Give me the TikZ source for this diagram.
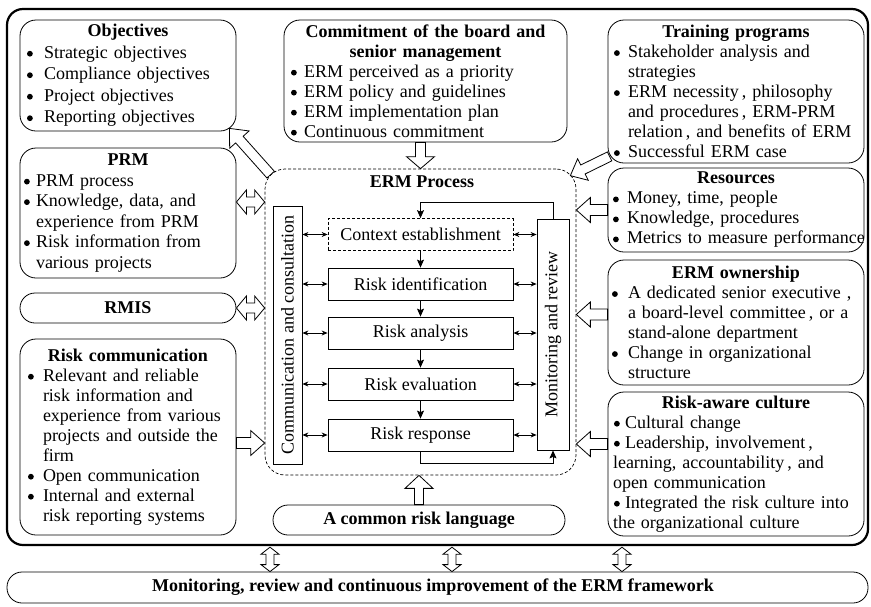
\documentclass[tikz,border=0pt]{standalone}
\usepackage{fontspec}
\setmainfont{Liberation Serif}
\usetikzlibrary{arrows.meta,calc}
\setlength\parindent{0pt}

% text helpers for the framed lists
\newcommand\bigbullet{\tikz[baseline=-4.6pt]\fill (0pt,0pt) circle (2.9pt);}
\newcommand\boxhead[1]{\noindent\makebox[\hsize]{\bfseries #1}\par}
\newcommand\bulline[3]{\noindent\hspace*{#1}\makebox[#2][l]{\bigbullet}\mbox{#3}\par}
\newcommand\contline[2]{\noindent\hspace*{#1}\mbox{#2}\par}

% hollow block arrow: tail, tip, shaft half width, head half width, head length
\newcommand\blockarrow[5]{%
  \path #1 coordinate (ba-tail) #2 coordinate (ba-tip);
  \coordinate (ba-neck) at ($(ba-tip)!#5!(ba-tail)$);
  \draw[hollow] ($(ba-tail)!#3!90:(ba-tip)$) -- ($(ba-neck)!#3!90:(ba-tip)$)
    -- ($(ba-neck)!#4!90:(ba-tip)$) -- (ba-tip) -- ($(ba-neck)!#4!-90:(ba-tip)$)
    -- ($(ba-neck)!#3!-90:(ba-tip)$) -- ($(ba-tail)!#3!-90:(ba-tip)$) -- cycle;}
% hollow double-headed block arrow, same arguments
\newcommand\blockdarrow[5]{%
  \path #1 coordinate (bd-a) #2 coordinate (bd-b);
  \coordinate (bd-na) at ($(bd-a)!#5!(bd-b)$);
  \coordinate (bd-nb) at ($(bd-b)!#5!(bd-a)$);
  \draw[hollow] (bd-a) -- ($(bd-na)!#4!90:(bd-b)$) -- ($(bd-na)!#3!90:(bd-b)$)
    -- ($(bd-nb)!#3!90:(bd-b)$) -- ($(bd-nb)!#4!90:(bd-b)$) -- (bd-b)
    -- ($(bd-nb)!#4!-90:(bd-b)$) -- ($(bd-nb)!#3!-90:(bd-b)$)
    -- ($(bd-na)!#3!-90:(bd-b)$) -- ($(bd-na)!#4!-90:(bd-b)$) -- cycle;}

\begin{document}
\begin{tikzpicture}[x=1pt, y={(0pt,-1pt)},
  every node/.style={font=\fontsize{18}{20}\selectfont},
  frame/.style={draw, line width=2.2pt, rounded corners=16pt, inner sep=0pt},
  infobox/.style={draw, line width=0.8pt, rounded corners=16pt, inner xsep=4pt, inner ysep=0pt},
  pill/.style={draw, line width=0.8pt, rounded corners=15pt, inner sep=0pt,
    font=\fontsize{18}{20}\selectfont\bfseries},
  stepbox/.style={draw, line width=0.8pt, minimum width=185pt, minimum height=32pt, inner sep=0pt},
  bar/.style={draw, line width=0.8pt, inner sep=0pt},
  dashline/.style={dash pattern=on 3pt off 2pt, line width=0.7pt},
  hollow/.style={draw, fill=white, line width=0.8pt, line join=miter},
  flow/.style={line width=0.8pt, -{Stealth[length=8pt,width=7pt,inset=1.5pt]}},
  link/.style={line width=0.8pt, {Stealth[length=6pt,width=5pt]}-{Stealth[length=6pt,width=5pt]}},
  title/.style={font=\fontsize{18}{20}\selectfont\bfseries}]

\useasboundingbox (0,0) rectangle (871,606);

% enclosing frame and the improvement band below it
\node[frame, minimum width=861pt, minimum height=536pt] (outer) at (437.5,277) {};
\node[pill, minimum width=861pt, minimum height=31pt] (improve) at (437.5,587.5)
  {Monitoring, review and continuous improvement of the ERM framework\hspace*{9pt}};

% left column
\node[infobox, font=\fontsize{18}{21.5}\selectfont, minimum width=216pt, minimum height=111pt, text width=208pt] (obj) at (128,75.5) {%
\boxhead{Objectives}
\bulline{3pt}{17pt}{Strategic objectives}
\bulline{3pt}{17pt}{Compliance objectives}
\bulline{3pt}{17pt}{Project objectives}
\bulline{3pt}{17pt}{Reporting objectives}};

\node[infobox, font=\fontsize{18}{20.5}\selectfont, minimum width=216pt, minimum height=130pt, text width=208pt] (prm) at (128,213) {%
\boxhead{PRM}
\bulline{0pt}{12pt}{PRM process}
\bulline{0pt}{12pt}{Knowledge, data, and}
\contline{12pt}{experience from PRM}
\bulline{0pt}{12pt}{Risk information from}
\contline{12pt}{various projects}};

\node[pill, minimum width=216pt, minimum height=30pt] (rmis) at (128,308) {RMIS};

\node[infobox, minimum width=216pt, minimum height=196pt, text width=208pt] (rcomm) at (128,437) {%
\boxhead{Risk communication}
\bulline{4pt}{15pt}{Relevant and reliable}
\contline{19pt}{risk information and}
\contline{19pt}{experience from various}
\contline{19pt}{projects and outside the}
\contline{19pt}{firm}
\bulline{4pt}{15pt}{Open communication}
\bulline{4pt}{15pt}{Internal and external}
\contline{19pt}{risk reporting systems}};

% top centre
\node[infobox, minimum width=283pt, minimum height=122pt, text width=275pt] (commit) at (425.5,81) {%
\boxhead{Commitment of the board and}
\boxhead{senior management}
\bulline{3pt}{13pt}{ERM perceived as a priority}
\bulline{3pt}{13pt}{ERM policy and guidelines}
\bulline{3pt}{13pt}{ERM implementation plan}
\bulline{3pt}{13pt}{Continuous commitment}};

% right column
\node[infobox, minimum width=256pt, minimum height=143pt, text width=248pt] (train) at (736,91.5) {%
\boxhead{Training programs}
\bulline{2pt}{14pt}{Stakeholder analysis and}
\contline{16pt}{strategies}
\bulline{2pt}{14pt}{ERM necessity\,, philosophy}
\contline{16pt}{and procedures\,, ERM-PRM}
\contline{16pt}{relation\,, and benefits of ERM}
\bulline{2pt}{14pt}{Successful ERM case}};

\node[infobox, minimum width=256pt, minimum height=84pt, text width=248pt] (res) at (736,210) {%
\boxhead{Resources}
\bulline{1pt}{14pt}{Money, time, people}
\bulline{1pt}{14pt}{Knowledge, procedures}
\bulline{1pt}{14pt}{Metrics to measure performance}};

\node[infobox, minimum width=256pt, minimum height=125pt, text width=248pt] (own) at (736,322.5) {%
\boxhead{ERM ownership}
\bulline{0pt}{16pt}{A dedicated senior executive ,}
\contline{16pt}{a board-level committee\,, or a}
\contline{16pt}{stand-alone department}
\bulline{0pt}{16pt}{Change in organizational}
\contline{16pt}{structure}};

\node[infobox, minimum width=256pt, minimum height=144pt, text width=248pt] (aware) at (736,464) {%
\boxhead{Risk-aware culture}
\bulline{2pt}{11pt}{Cultural change}
\bulline{2pt}{11pt}{Leadership, involvement\,,}
\contline{1pt}{learning, accountability\,, and}
\contline{1pt}{open communication}
\bulline{2pt}{11pt}{Integrated the risk culture into}
\contline{1pt}{the organizational culture}};

% bottom centre
\node[pill, minimum width=292pt, minimum height=30pt] (lang) at (419,520) {A common risk language};

% ERM process core
\node[draw, dashline, rounded corners=20pt, minimum width=311pt, minimum height=306pt, inner sep=0pt] (erm) at (420.5,322) {};
\node[title] (ermtitle) at (422,182) {ERM Process};

\node[bar, minimum width=29pt, minimum height=258pt] (comm) at (287.5,335) {};
\node[rotate=90] (commtext) at (comm.center) {Communication and consultation};
\node[bar, minimum width=32pt, minimum height=231pt] (mon) at (553,334.5) {};
\node[rotate=90] (montext) at (mon.center) {Monitoring and review};

\node[stepbox, dashline] (ctx) at (420.5,234.5) {Context establishment};
\node[stepbox] (ident) at (420.5,284) {Risk identification};
\node[stepbox] (anal) at (420.5,333) {Risk analysis};
\node[stepbox] (eval) at (420.5,384) {Risk evaluation};
\node[stepbox] (resp) at (420.5,435) {Risk response};

\draw[flow] (ctx) -- (ident);
\draw[flow] (ident) -- (anal);
\draw[flow] (anal) -- (eval);
\draw[flow] (eval) -- (resp);
\draw[flow] (resp.south) -- ++(0,12) -| (mon.south);
\draw[flow] (mon.north) -- ++(0,-16) -| (ctx.north);

\foreach \s in {ctx,ident,anal,eval,resp}{
  \draw[link] (comm.east |- \s.west) -- (\s.west);
  \draw[link] (\s.east) -- (\s.east -| mon.west);
}

% block arrows feeding the process
\blockarrow{(erm.north |- commit.south)}{(erm.north)}{5pt}{14pt}{12pt}
\blockarrow{([shift={(6,6)}]erm.north west)}{([shift={(-7,-3)}]obj.south east)}{5pt}{13pt}{15pt}
\blockarrow{([shift={(2,-7)}]train.south west)}{([shift={(-6,7)}]erm.north east)}{5pt}{12pt}{14pt}
\blockarrow{(res.west)}{(erm.east |- res.west)}{5.5pt}{12.5pt}{14pt}
\coordinate (ownT) at ([yshift=8pt]own.west);
\blockarrow{(ownT)}{(erm.east |- ownT)}{5.5pt}{12.5pt}{14pt}
\coordinate (awareT) at ([yshift=20pt]aware.west);
\blockarrow{(awareT)}{(erm.east |- awareT)}{5.5pt}{12.5pt}{14pt}
\coordinate (prmT) at ([yshift=11pt]prm.east);
\blockdarrow{(prmT)}{(erm.west |- prmT)}{5pt}{12pt}{10pt}
\blockdarrow{(rmis.east)}{(erm.west |- rmis.east)}{5pt}{12pt}{10pt}
\coordinate (rcommT) at ([yshift=-6pt]rcomm.east);
\blockarrow{(rcommT)}{(erm.west |- rcommT)}{5.5pt}{12.5pt}{14pt}
\blockarrow{(lang.north)}{(lang.north |- erm.south)}{4.5pt}{14pt}{13pt}

% links between the frame and the improvement band
\foreach \dx [count=\i] in {-167.5,14.5,184.5}{
  \coordinate (fb\i) at ([xshift=\dx pt, yshift=-1.1pt]outer.south);
  \blockdarrow{(fb\i)}{(fb\i |- improve.north)}{4pt}{9pt}{7pt}
}
\end{tikzpicture}
\end{document}
